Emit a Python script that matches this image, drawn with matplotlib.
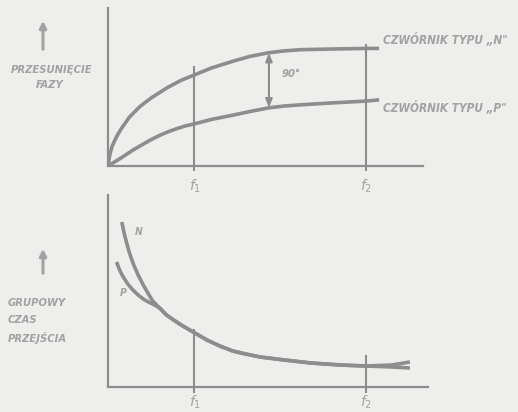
import numpy as np
import matplotlib
matplotlib.use('Agg')
import matplotlib.pyplot as plt
from matplotlib import font_manager

# frequency axis: f1 = 1, f2 = 3
F1 = 1.0
F2 = 3.0

# phase shift (deg) of the two quadripoles
freq_n = [0, 0.02, 0.05, 0.1, 0.15, 0.25, 0.37, 0.5, 0.69, 0.85, 1.01, 1.2,
          1.45, 1.65, 1.87, 2.05, 2.25, 2.6, 3.0, 3.15]
phase_n = [0, 18, 33, 48, 60, 80, 97, 111, 128, 140, 149, 160,
           171, 179, 185, 188, 190, 191, 192, 192]
freq_p = [0, 0.15, 0.29, 0.4, 0.5, 0.6, 0.7, 0.8, 0.9, 1.01, 1.2, 1.45, 1.65,
          1.87, 2.05, 2.25, 2.6, 3.0, 3.15]
phase_p = [0, 13, 26, 35, 43, 50, 56, 61, 65.5, 69, 76, 83, 89,
           95, 98, 100, 103, 106, 108]

# group delay (arbitrary units)
freq_n2 = [0.16, 0.19, 0.22, 0.25, 0.29, 0.35, 0.41, 0.47, 0.52, 0.6, 0.68, 0.78,
           0.87, 1.01, 1.15, 1.3, 1.45, 1.6, 1.77, 2.05, 2.36, 2.7, 3.0, 3.3, 3.51]
delay_n = [165, 153, 143, 134, 124, 112, 102, 93, 86, 79, 72, 66,
           61, 54, 47, 41, 36, 33, 30, 27, 24, 22, 21, 22, 25]
freq_p2 = [0.10, 0.13, 0.17, 0.23, 0.29, 0.35, 0.41, 0.47, 0.52, 0.6, 0.68, 0.78,
           0.87, 1.01, 1.15, 1.3, 1.45, 1.6, 1.77, 2.05, 2.36, 2.7, 3.0, 3.3, 3.51]
delay_p = [125, 118, 111, 103, 97, 92, 88, 85, 83, 79, 72, 66,
           61, 54, 47, 41, 36, 33, 30, 27, 24, 22, 21, 20, 19]

label_n = 'CZWÓRNIK TYPU „N"'
label_p = 'CZWÓRNIK TYPU „P"'

BG = '#eeeeec'
LINE = '#8d8d8d'
TEXT = '#a2a2a2'
W, H = 518, 412

# narrow italic font if we have one
names = {f.name for f in font_manager.fontManager.ttflist}
FONT = 'Liberation Sans Narrow' if 'Liberation Sans Narrow' in names else 'DejaVu Sans'


def fx(x):
    return x / W


def fy(y):
    return 1 - y / H


def label(x, y, s, size=8.5, ha='left', va='center'):
    fig.text(fx(x), fy(y), s, ha=ha, va=va, fontsize=size, color=TEXT,
             family=FONT, style='italic', weight='bold', stretch='condensed')


def up_arrow(x, y0, y1):
    fig.add_artist(matplotlib.patches.FancyArrowPatch(
        (fx(x), fy(y0)), (fx(x), fy(y1)), transform=fig.transFigure,
        arrowstyle='-|>,head_length=4,head_width=2', color=TEXT, lw=2.2))


def bare_axes(rect, xmax, ymax):
    ax = fig.add_axes(rect)
    ax.patch.set_alpha(0)
    for s in ['top', 'right']:
        ax.spines[s].set_visible(False)
    for s in ['left', 'bottom']:
        ax.spines[s].set_color(LINE)
        ax.spines[s].set_linewidth(1.6)
    ax.set_xticks([])
    ax.set_yticks([])
    ax.set_xlim(0, xmax)
    ax.set_ylim(0, ymax)
    return ax


fig = plt.figure(figsize=(W / 100, H / 100), dpi=100, facecolor=BG)

# --- phase shift ---
ax1 = bare_axes([fx(108), fy(166), fx(423) - fx(108), fy(8) - fy(166)], 3.66, 258)
ax1.plot(freq_n, phase_n, color=LINE, lw=2.6, solid_capstyle='butt', solid_joinstyle='round')
ax1.plot(freq_p, phase_p, color=LINE, lw=2.6, solid_capstyle='butt', solid_joinstyle='round')
ax1.plot([F1, F1], [-7, 162], color=LINE, lw=1.5, clip_on=False)
ax1.plot([F2, F2], [-7, 198], color=LINE, lw=1.5, clip_on=False)

x90 = 1.87
ax1.annotate('', xy=(x90, np.interp(x90, freq_p, phase_p)),
             xytext=(x90, np.interp(x90, freq_n, phase_n)),
             arrowprops=dict(arrowstyle='<|-|>,head_length=0.5,head_width=0.2',
                             color=LINE, lw=1.5, shrinkA=0, shrinkB=0))
label(282, 74, '90°', size=8)

label(383, 40, label_n, size=8.5)
label(383, 108, label_p, size=8.5)
label(195, 186, '$f_1$', size=10, ha='center')
label(366, 186, '$f_2$', size=10, ha='center')

up_arrow(43, 52, 18)
label(52, 70, 'PRZESUNIĘCIE', size=8, ha='center')
label(50, 85, 'FAZY', size=8, ha='center')

# --- group delay ---
ax2 = bare_axes([fx(108), fy(387), fx(428) - fx(108), fy(195) - fy(387)], 3.72, 192)
ax2.plot(freq_n2, delay_n, color=LINE, lw=2.6, solid_capstyle='butt', solid_joinstyle='round')
ax2.plot(freq_p2, delay_p, color=LINE, lw=2.6, solid_capstyle='butt', solid_joinstyle='round')
ax2.plot([F1, F1], [-5, 57], color=LINE, lw=1.5, clip_on=False)
ax2.plot([F2, F2], [-5, 31], color=LINE, lw=1.5, clip_on=False)
label(135, 232, 'N', size=7.5)
label(120, 293, 'P', size=7.5)
label(195, 411, '$f_1$', size=10, ha='center', va='bottom')
label(366, 411, '$f_2$', size=10, ha='center', va='bottom')

up_arrow(43, 276, 246)
label(8, 303, 'GRUPOWY', size=8)
label(8, 320, 'CZAS', size=8)
label(8, 338, 'PRZEJŚCIA', size=8)

fig.savefig('out.png', dpi=100, facecolor=BG)
